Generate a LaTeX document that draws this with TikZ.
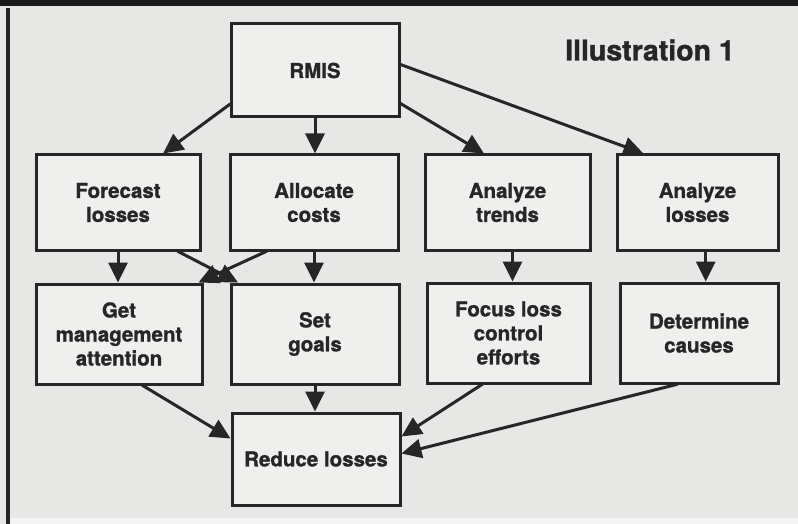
\documentclass[tikz,border=0pt]{standalone}
\usepackage{fontspec}
\setmainfont[BoldFeatures={FakeBold=1.2}]{TeX Gyre Heros}
\usetikzlibrary{arrows.meta,calc}
\definecolor{bgc}{HTML}{E7E8E6}
\definecolor{boxc}{HTML}{EFEFED}
\definecolor{ink}{HTML}{262626}
\tikzset{
  box/.style={draw=ink, fill=boxc, line width=3pt, align=center, inner sep=2pt,
    font=\bfseries\fontsize{20.5}{24}\selectfont, text=ink},
  conn/.style={draw=ink, line width=3pt, -{Triangle[length=20pt,width=19pt]}, shorten <=-1pt},
}
\begin{document}
\begin{tikzpicture}[x=1pt,y=-1pt]
\useasboundingbox (0,0) rectangle (798,524);
\fill[bgc] (0,0) rectangle (798,524);
\fill[black!90] (0,0) rectangle (798,6);
\fill[bgc!50!white] (10,518) rectangle (798,524);
\fill[ink] (6,8) rectangle (10,524);

\node[font=\bfseries\fontsize{28.5}{30}\selectfont, text=ink] (title) at (650,50) {Illustration 1};

\node[box, minimum width=168pt, minimum height=93pt] (rmis) at (315,70.5) {RMIS};

\node[box, minimum width=164pt, minimum height=95pt] (fc) at (118,202.5) {Forecast\\losses};
\node[box, minimum width=168pt, minimum height=95pt] (alloc) at (314,202.5) {Allocate\\costs};
\node[box, minimum width=165pt, minimum height=95pt] (tr) at (507.5,202.5) {Analyze\\trends};
\node[box, minimum width=161pt, minimum height=95pt] (al) at (697.5,202.5) {Analyze\\losses};

\node[box, minimum width=166pt, minimum height=100pt] (gm) at (119,334) {Get\\management\\attention};
\node[box, minimum width=168pt, minimum height=100pt] (sg) at (315,334) {Set\\goals};
\node[box, minimum width=163pt, minimum height=100pt] (fo) at (508.5,333) {Focus loss\\control\\efforts};
\node[box, minimum width=158pt, minimum height=100pt] (dc) at (699,333) {Determine\\causes};

\node[box, minimum width=168pt, minimum height=92pt] (rl) at (316,459) {Reduce losses};

\coordinate (trb) at ($(tr.south west)!0.53!(tr.south east)$);
\coordinate (alb) at ($(al.south west)!0.55!(al.south east)$);

% RMIS outputs
\draw[conn] ([yshift=14pt]rmis.south west) -- ($(fc.north west)!0.77!(fc.north east)$);
\draw[conn] (rmis.south) -- (rmis.south |- alloc.north);
\draw[conn] ([yshift=15pt]rmis.south east) -- ($(tr.north west)!0.36!(tr.north east)$);
\draw[conn] ([yshift=-42pt]rmis.north east) -- ($(al.north west)!0.17!(al.north east)$);

% row 1 to row 2
\draw[conn] (fc.south) -- (fc.south |- gm.north);
\draw[conn] (alloc.south) -- (alloc.south |- sg.north);
\draw[conn] ($(fc.south west)!0.86!(fc.south east)$) -- ($(sg.north west)!0.05!(sg.north east)$);
\draw[conn] ($(alloc.south west)!0.22!(alloc.south east)$) -- ($(gm.north west)!0.97!(gm.north east)$);
\draw[conn] (trb) -- (trb |- fo.north);
\draw[conn] (alb) -- (alb |- dc.north);

% row 2 to reduce losses
\draw[conn] ($(gm.south west)!0.64!(gm.south east)$) -- ([yshift=-27pt]rl.north west);
\draw[conn] (sg.south) -- (sg.south |- rl.north);
\draw[conn] ($(fo.south west)!0.34!(fo.south east)$) -- ([yshift=-25pt]rl.north east);
\draw[conn] ($(dc.south west)!0.36!(dc.south east)$) -- ([yshift=-42pt]rl.north east);
\end{tikzpicture}
\end{document}
